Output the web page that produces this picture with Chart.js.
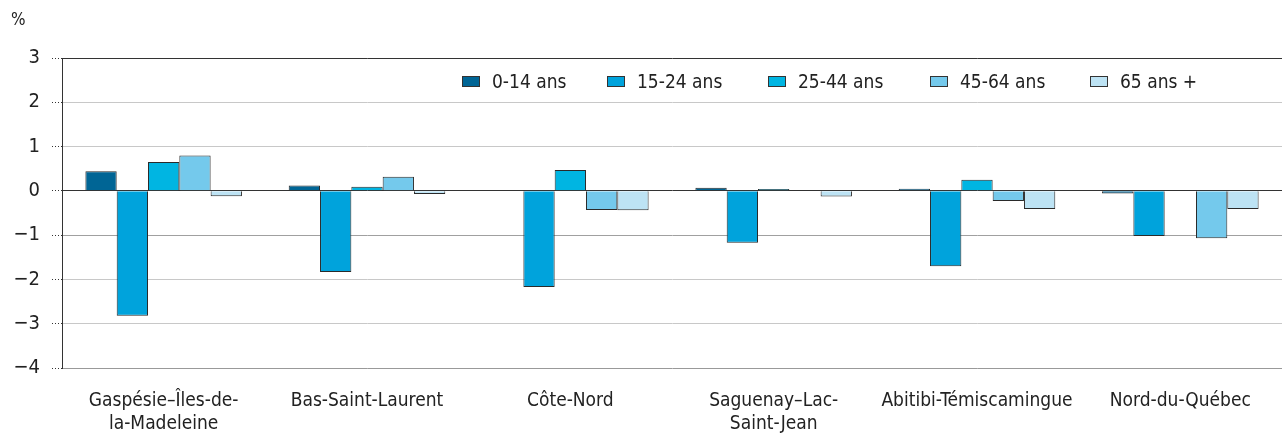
<!DOCTYPE html>
<html>
<head>
<meta charset="utf-8">
<script src="https://cdn.jsdelivr.net/npm/chart.js@4.4.1/dist/chart.umd.min.js"></script>
<style>
  html, body { margin:0; padding:0; background:#fff; }
  #wrap { position:relative; width:1283px; height:438px; font-family:'Liberation Sans Narrow','DejaVu Sans Condensed',sans-serif; color:#222; }
  #unit { position:absolute; left:11px; top:9px; font-size:17px; }
  #legend .item { position:absolute; top:70px; display:flex; align-items:center; white-space:nowrap; font-size:19px; line-height:22px; }
  #legend .box { width:16px; height:9px; border:1px solid #333; margin-right:12px; }
</style>
</head>
<body>
<div id="wrap">
  <canvas id="chart" width="1283" height="438"></canvas>
  <div id="unit">%</div>
  <div id="legend"></div>
</div>
<script>
// Régions
var regions = [
    ['Gaspésie–Îles-de-', 'la-Madeleine'],
    'Bas-Saint-Laurent',
    'Côte-Nord',
    ['Saguenay–Lac-', 'Saint-Jean'],
    'Abitibi-Témiscamingue',
    'Nord-du-Québec'
];

// Groupes d'âge et couleurs
var groupes = ['0-14 ans', '15-24 ans', '25-44 ans', '45-64 ans', '65 ans +'];
var couleurs = ['#006595', '#00a3dc', '#00b5e2', '#74c9ec', '#bde3f4'];

// Valeurs (%)
var v0_14  = [0.44, 0.12, 0.00, 0.07, 0.05, -0.06];
var v15_24 = [-2.82, -1.83, -2.17, -1.17, -1.70, -1.02];
var v25_44 = [0.65, 0.09, 0.47, 0.04, 0.25, 0.02];
var v45_64 = [0.80, 0.32, -0.43, 0.02, -0.23, -1.07];
var v65    = [-0.12, -0.07, -0.44, -0.13, -0.41, -0.41];

var yTicks = [3, 2, 1, 0, -1, -2, -3, -4];

document.addEventListener('DOMContentLoaded', function(){
    var series = [v0_14, v15_24, v25_44, v45_64, v65];
    var datasets = series.map(function(d, i){
        return {
            label: groupes[i],
            data: d,
            backgroundColor: couleurs[i],
            borderColor: '#2a2a2a',
            borderWidth: 1,
            barPercentage: 1,
            categoryPercentage: 0.77
        };
    });

    // légende HTML, placée dans la zone du graphique
    var legLeft = [462, 607, 768, 930, 1090];
    var leg = document.getElementById('legend');
    groupes.forEach(function(g, i){
        var it = document.createElement('div');
        it.className = 'item';
        it.style.left = legLeft[i] + 'px';
        it.innerHTML = '<span class="box" style="background:' + couleurs[i] + '"></span><span>' + g + '</span>';
        leg.appendChild(it);
    });

    var font = "'Liberation Sans Narrow','DejaVu Sans Condensed',sans-serif";
    var ctx = document.getElementById('chart');
    new Chart(ctx, {
        type: 'bar',
        data: { labels: regions, datasets: datasets },
        options: {
            responsive: false,
            animation: false,
            layout: { padding: { top: 58, right: 1, left: 0, bottom: 0 } },
            plugins: { legend: { display: false }, tooltip: { enabled: false } },
            scales: {
                x: {
                    grid: { display: false },
                    border: { display: false },
                    ticks: { color: '#222', font: { family: font, size: 19, lineHeight: 1.2 }, padding: 14, maxRotation: 0, autoSkip: false },
                    afterFit: function(s){ s.height = 70; }
                },
                y: {
                    min: -4, max: 3,
                    afterBuildTicks: function(s){ s.ticks = yTicks.map(function(v){ return {value: v}; }); },
                    afterFit: function(s){ s.width = 62; },
                    border: { display: true, color: '#333', width: 1 },
                    grid: {
                        color: function(c){
                            var v = c.tick && c.tick.value;
                            if (v === 0 || v === 3) return '#333';
                            if (v === -4) return '#999';
                            if (v === -1) return '#a0a0a0';
                            return '#c8c8c8';
                        },
                        lineWidth: 1,
                        tickLength: 10,
                        tickColor: '#333',
                        tickBorderDash: [1, 2]
                    },
                    ticks: {
                        color: '#222',
                        font: { family: font, size: 20 },
                        padding: 12,
                        callback: function(v){ return String(v).replace('-', '\u2212'); }
                    }
                }
            }
        }
    });
});
</script>
</body>
</html>
